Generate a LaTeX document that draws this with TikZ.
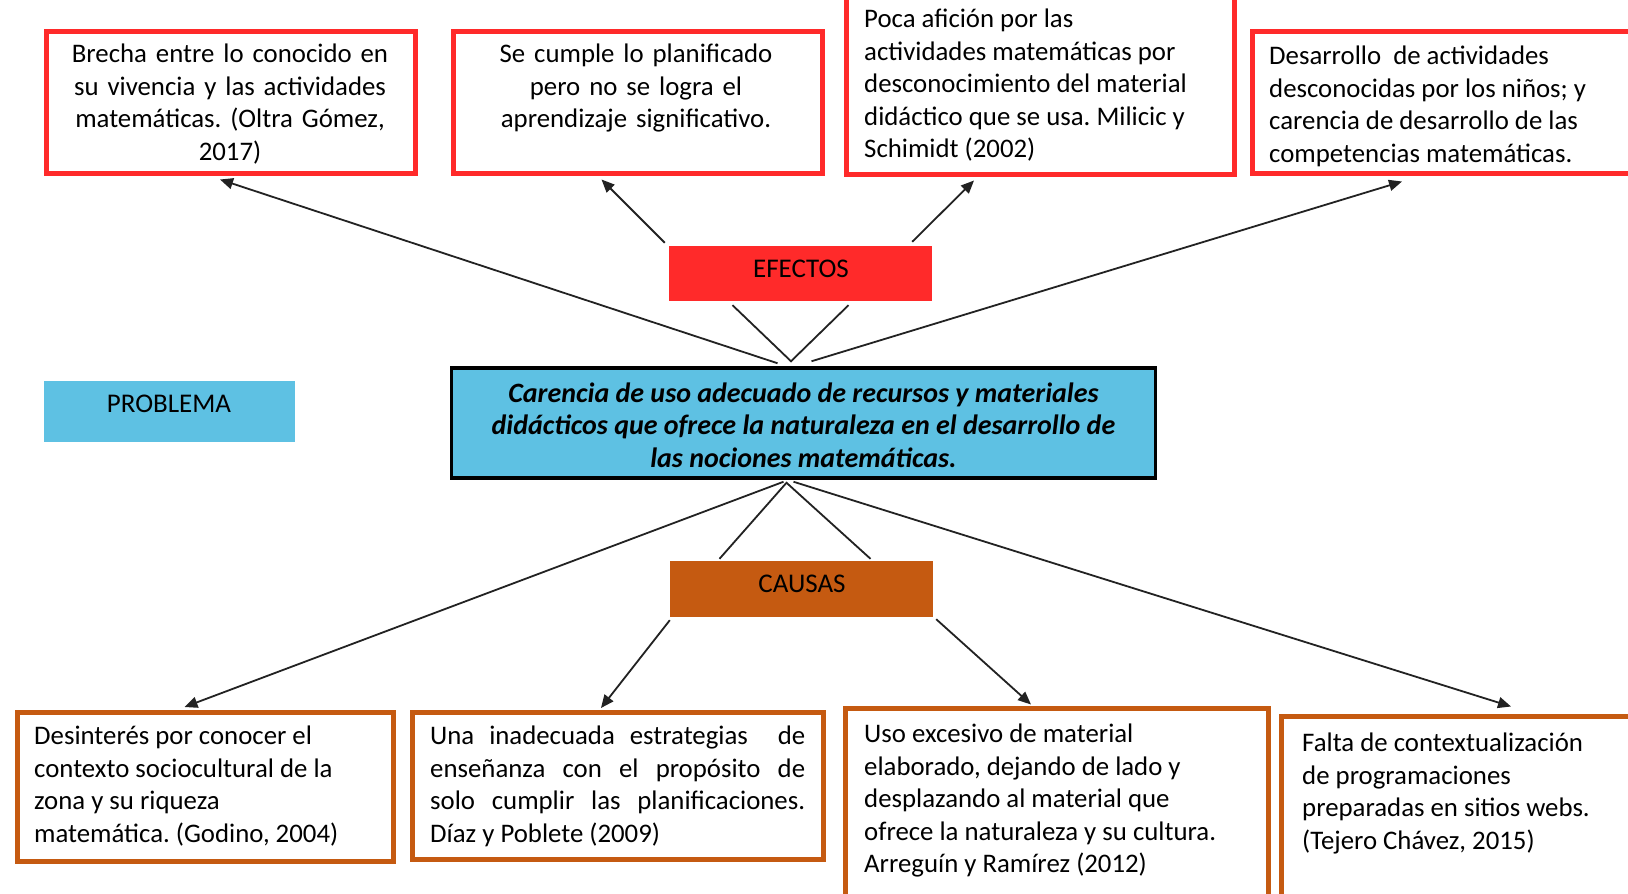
\documentclass[tikz,border=0pt]{standalone}
\usepackage{fontspec}
\setmainfont{Carlito}
\usetikzlibrary{arrows.meta,calc}
\frenchspacing

\definecolor{effred}{HTML}{FF2A2A}
\definecolor{probblue}{HTML}{5EC1E3}
\definecolor{causeorange}{HTML}{C55A11}
\definecolor{linkgray}{HTML}{222222}

\tikzset{
  effbox/.style={draw=effred, line width=5pt, fill=white, inner sep=0pt},
  causebox/.style={draw=causeorange, line width=5pt, fill=white, inner sep=0pt},
  tagbox/.style={inner sep=0pt, font=\fontsize{27}{32}\selectfont},
  txt/.style={inner sep=0pt, anchor=north west, font=\fontsize{26.8}{32.5}\selectfont},
  link/.style={draw=linkgray, line width=1.8pt},
  arrowlink/.style={link, -{Triangle[length=13pt,width=11pt]}}
}
% one justified line of fixed width
\newcommand{\jline}[1]{\makebox[375pt][s]{#1}}

\begin{document}
\begin{tikzpicture}[x=1pt,y=-1pt]
\useasboundingbox (0,0) rectangle (1628,894);
\clip (0,0) rectangle (1628,894);
\fill[white] (0,0) rectangle (1628,894);

% ---------- effect boxes ----------
\node[effbox, minimum width=369pt, minimum height=142pt] (e1) at (231,102) {};
\node[effbox, minimum width=369pt, minimum height=142pt] (e2) at (637.5,102) {};
\node[effbox, minimum width=388pt, minimum height=200pt] (e3) at (1040,74) {};
\node[effbox, minimum width=400pt, minimum height=142pt] (e4) at (1452,102) {};

\node[txt, anchor=north, align=center, text width=360pt] (e1t) at (230,44)
  {Brecha entre lo conocido en\\su vivencia y las actividades\\matemáticas. (Oltra Gómez,\\2017)};
\node[txt, anchor=north, align=center, text width=360pt] (e2t) at (636,44)
  {Se cumple lo planificado\\pero no se logra el\\aprendizaje significativo.};
\node[txt, align=left] (e3t) at (864,9)
  {Poca afición por las\\actividades matemáticas por\\desconocimiento del material\\didáctico que se usa. Milicic y\\Schimidt (2002)};
\node[txt, align=left] (e4t) at (1269,46)
  {Desarrollo\ \ de actividades\\desconocidas por los niños; y\\carencia de desarrollo de las\\competencias matemáticas.};

% ---------- category tags ----------
\node[tagbox, fill=effred, minimum width=263pt, minimum height=55pt] (ef) at (800.5,273.5) {};
\node[tagbox] (eft) at (801,269) {EFECTOS};

\node[tagbox, fill=probblue, minimum width=251pt, minimum height=61pt] (pb) at (169.5,411) {};
\node[tagbox] (pbt) at (169,404) {PROBLEMA};

\node[tagbox, fill=causeorange, minimum width=263pt, minimum height=56pt] (ca) at (801.5,589) {};
\node[tagbox] (cat) at (802,584) {CAUSAS};

% ---------- central problem ----------
\node[draw=black, line width=3.5pt, fill=probblue, inner sep=0pt,
      minimum width=704pt, minimum height=110pt] (m) at (803.5,423) {};
\node[inner sep=0pt, align=center, font=\fontsize{28}{32.5}\selectfont\bfseries\itshape] (mt) at (803.5,425)
  {Carencia de uso adecuado de recursos y materiales\\didácticos que ofrece la naturaleza en el desarrollo de\\las nociones matemáticas.};

% ---------- cause boxes ----------
\node[causebox, minimum width=376pt, minimum height=149pt] (b1) at (205.5,787) {};
\node[causebox, minimum width=411pt, minimum height=147pt] (b2) at (618,786) {};
\node[causebox, minimum width=423pt, minimum height=220pt] (b3) at (1057,818) {};
\node[causebox, minimum width=380pt, minimum height=210pt] (b4) at (1471,821) {};

\node[txt, align=left] (b1t) at (34,726)
  {Desinterés por conocer el\\contexto sociocultural de la\\zona y su riqueza\\matemática. (Godino, 2004)};
\node[txt, align=left] (b2t) at (430,726)
  {\jline{Una inadecuada estrategias\ \ de}\\\jline{enseñanza con el propósito de}\\\jline{solo cumplir las planificaciones.}\\Díaz y Poblete (2009)};
\node[txt, align=left] (b3t) at (864,724)
  {Uso excesivo de material\\elaborado, dejando de lado y\\desplazando al material que\\ofrece la naturaleza y su cultura.\\Arreguín y Ramírez (2012)};
\node[txt, align=left] (b4t) at (1302,733)
  {Falta de contextualización\\de programaciones\\preparadas en sitios webs.\\(Tejero Chávez, 2015)};

% ---------- connectors: problem -> effects ----------
\draw[arrowlink] ([xshift=-26pt,yshift=3pt]m.north) -- ([xshift=-11pt,yshift=-4pt]e1.south);
\draw[arrowlink] ([xshift=-4pt,yshift=3pt]ef.north west) -- ([xshift=-36pt,yshift=-4pt]e2.south);
\draw[arrowlink] ([xshift=-20pt,yshift=4pt]ef.north east) -- ([xshift=-66pt,yshift=-4pt]e3.south);
\draw[arrowlink] ([xshift=8pt,yshift=5pt]m.north) -- ([xshift=-50pt,yshift=-6pt]e4.south);
\draw[link] ([xshift=-68pt,yshift=-4pt]ef.south) -- ([xshift=-12.5pt,yshift=5pt]m.north)
            -- ([xshift=48pt,yshift=-4pt]ef.south);

% ---------- connectors: problem -> causes ----------
\draw[arrowlink] ([xshift=-20pt,yshift=-2pt]m.south) -- ([xshift=-21pt,yshift=3pt]b1.north);
\draw[link] ([xshift=-82pt,yshift=2pt]ca.north) -- ([xshift=-17pt,yshift=-3pt]m.south)
            -- ([xshift=69pt,yshift=2pt]ca.north);
\draw[arrowlink] ([yshift=-3pt]ca.south west) -- ([xshift=-17pt,yshift=2pt]b2.north);
\draw[arrowlink] ([xshift=3pt,yshift=-2pt]ca.south east) -- ([xshift=-26pt,yshift=1pt]b3.north);
\draw[arrowlink] ([xshift=-10pt,yshift=-2pt]m.south) -- ([xshift=40pt,yshift=7pt]b4.north);
\end{tikzpicture}
\end{document}
